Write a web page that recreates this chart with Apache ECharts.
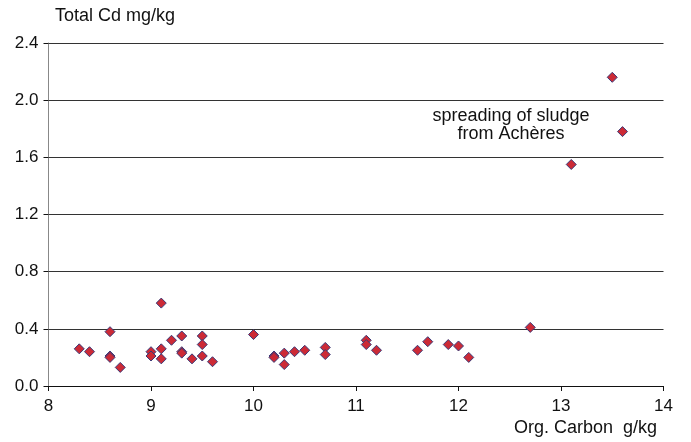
<!DOCTYPE html>
<html>
<head>
<meta charset="utf-8">
<script src="https://cdn.jsdelivr.net/npm/echarts@6/dist/echarts.min.js"></script>
<style>html,body{margin:0;padding:0;background:#fff;}#c{width:691px;height:442px;}</style>
</head>
<body>
<div id="c"></div>
<script>
const orgCarbon = [8.3, 8.4, 8.6, 8.6, 8.6, 8.7, 9.0, 9.0, 9.1, 9.1, 9.1, 9.2, 9.3, 9.3, 9.3, 9.4, 9.5, 9.5, 9.5, 9.6,
  10.0, 10.2, 10.2, 10.3, 10.3, 10.4, 10.5, 10.7, 10.7, 11.1, 11.1, 11.2, 11.6, 11.7, 11.9, 12.0, 12.1,
  12.7, 13.1, 13.5, 13.6];
const totalCd = [0.26, 0.24, 0.38, 0.21, 0.20, 0.13, 0.24, 0.21, 0.58, 0.26, 0.19, 0.32, 0.35, 0.24, 0.23, 0.19, 0.35, 0.29, 0.21, 0.17,
  0.36, 0.21, 0.20, 0.23, 0.15, 0.24, 0.25, 0.27, 0.22, 0.32, 0.29, 0.25, 0.25, 0.31, 0.29, 0.28, 0.20,
  0.41, 1.55, 2.16, 1.78];
const xTitle = 'Org. Carbon  g/kg';
const yTitle = 'Total Cd mg/kg';
const noteLines = ['spreading of sludge', 'from Achères'];

const points = orgCarbon.map((x, i) => [x, totalCd[i]]);
const font = 'Liberation Sans, Arial, sans-serif';
const chart = echarts.init(document.getElementById('c'), null, {renderer: 'canvas'});
chart.setOption({
  animation: false,
  backgroundColor: '#fff',
  grid: {left: 48.5, right: 27.5, top: 43, bottom: 56, containLabel: false},
  title: [
    {text: yTitle, left: 50, top: 2, textStyle: {fontFamily: font, fontSize: 18, fontWeight: 'normal', color: '#111'}},
    {text: xTitle, right: 29, top: 414, textStyle: {fontFamily: font, fontSize: 18, fontWeight: 'normal', color: '#111'}}
  ],
  xAxis: {
    type: 'value', min: 8, max: 14, interval: 1,
    axisLine: {show: true, onZero: false, lineStyle: {color: '#111', width: 1}},
    axisTick: {show: true, inside: false, length: 5, lineStyle: {color: '#111'}},
    axisLabel: {fontFamily: font, fontSize: 17, color: '#111', margin: 12},
    splitLine: {show: false}
  },
  yAxis: {
    type: 'value', min: 0, max: 2.4, interval: 0.4,
    axisLine: {show: true, lineStyle: {color: '#888', width: 1}},
    axisTick: {show: true, inside: false, length: 5, lineStyle: {color: '#111'}},
    axisLabel: {fontFamily: font, fontSize: 17, color: '#111', margin: 10, formatter: v => v.toFixed(1)},
    splitLine: {show: true, lineStyle: {color: '#333', width: 1}}
  },
  graphic: [{
    type: 'text', x: 511, y: 107, z: 10,
    style: {text: noteLines.join('\n'), font: '18px ' + font, fill: '#111', align: 'center', textAlign: 'center', lineHeight: 18}
  }],
  series: [{
    type: 'scatter',
    data: points,
    symbol: 'diamond',
    symbolSize: 10,
    itemStyle: {color: '#cc2a36', borderColor: '#3a3a78', borderWidth: 1, opacity: 1}
  }]
});
</script>
</body>
</html>
